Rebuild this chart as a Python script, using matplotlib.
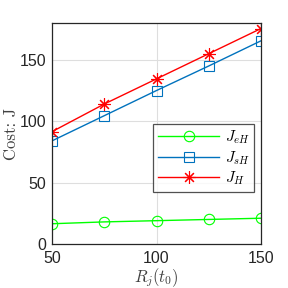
import matplotlib
matplotlib.use("Agg")
import matplotlib.pyplot as plt

x = [50, 75, 100, 125, 150]
J_eH = [16.5, 18, 19, 20, 21]
J_sH = [84, 104.5, 125, 145, 165.5]
J_H = [91.5, 114, 134.5, 155, 175.5]

plt.rcParams['font.family'] = ['Liberation Sans', 'DejaVu Sans']
plt.rcParams['mathtext.fontset'] = 'cm'

fig = plt.figure(figsize=(2.88, 2.88), dpi=100)
ax = fig.add_axes([52/288, 1-244/288, (261-52)/288, (244-23)/288])

ax.plot(x, J_eH, color=(0, 1, 0), lw=1, marker='o', ms=7.5, mfc='none', mew=0.8, label=r'$J_{eH}$')
ax.plot(x, J_sH, color=(0, 0.447, 0.741), lw=1, marker='s', ms=7.5, mfc='none', mew=0.8, label=r'$J_{sH}$')
ax.plot(x, J_H, color=(1, 0, 0), lw=1, marker=(8, 2, 0), ms=9, mew=0.8, label=r'$J_H$')

ax.set_xlim(50, 150)
ax.set_ylim(0, 180)
ax.set_xticks([50, 100, 150])
ax.set_yticks([0, 50, 100, 150])
ax.grid(True, color=(0.87, 0.87, 0.87), lw=0.8)
ax.set_axisbelow(True)
ax.tick_params(labelsize=11.5, direction='in', length=0, colors='#262626')
ax.tick_params(axis='x', pad=5)
ax.tick_params(axis='y', pad=4)
for s in ax.spines.values():
    s.set_color('#262626')
    s.set_linewidth(0.9)

xl = ax.set_xlabel(r'$R_j(t_0)$', fontsize=12, color='#404040')
xl.set_va('center')
ax.xaxis.set_label_coords((156-52)/209, (244-278)/221)
yl = ax.set_ylabel('Cost: J', family='cmr10', fontsize=12, color='#404040')
yl.set_va('center')
ax.yaxis.set_label_coords((11-52)/209, 0.5)

leg = ax.legend(loc='lower right', bbox_to_anchor=(254/288, 1-192/288), bbox_transform=fig.transFigure,
                fontsize=11, frameon=True, fancybox=False, handlelength=4.0, borderpad=0.3,
                labelspacing=0.2, handletextpad=0.35, borderaxespad=0)
leg.get_frame().set_edgecolor('#262626')
leg.get_frame().set_linewidth(0.9)

fig.savefig('out.png', dpi=100)
